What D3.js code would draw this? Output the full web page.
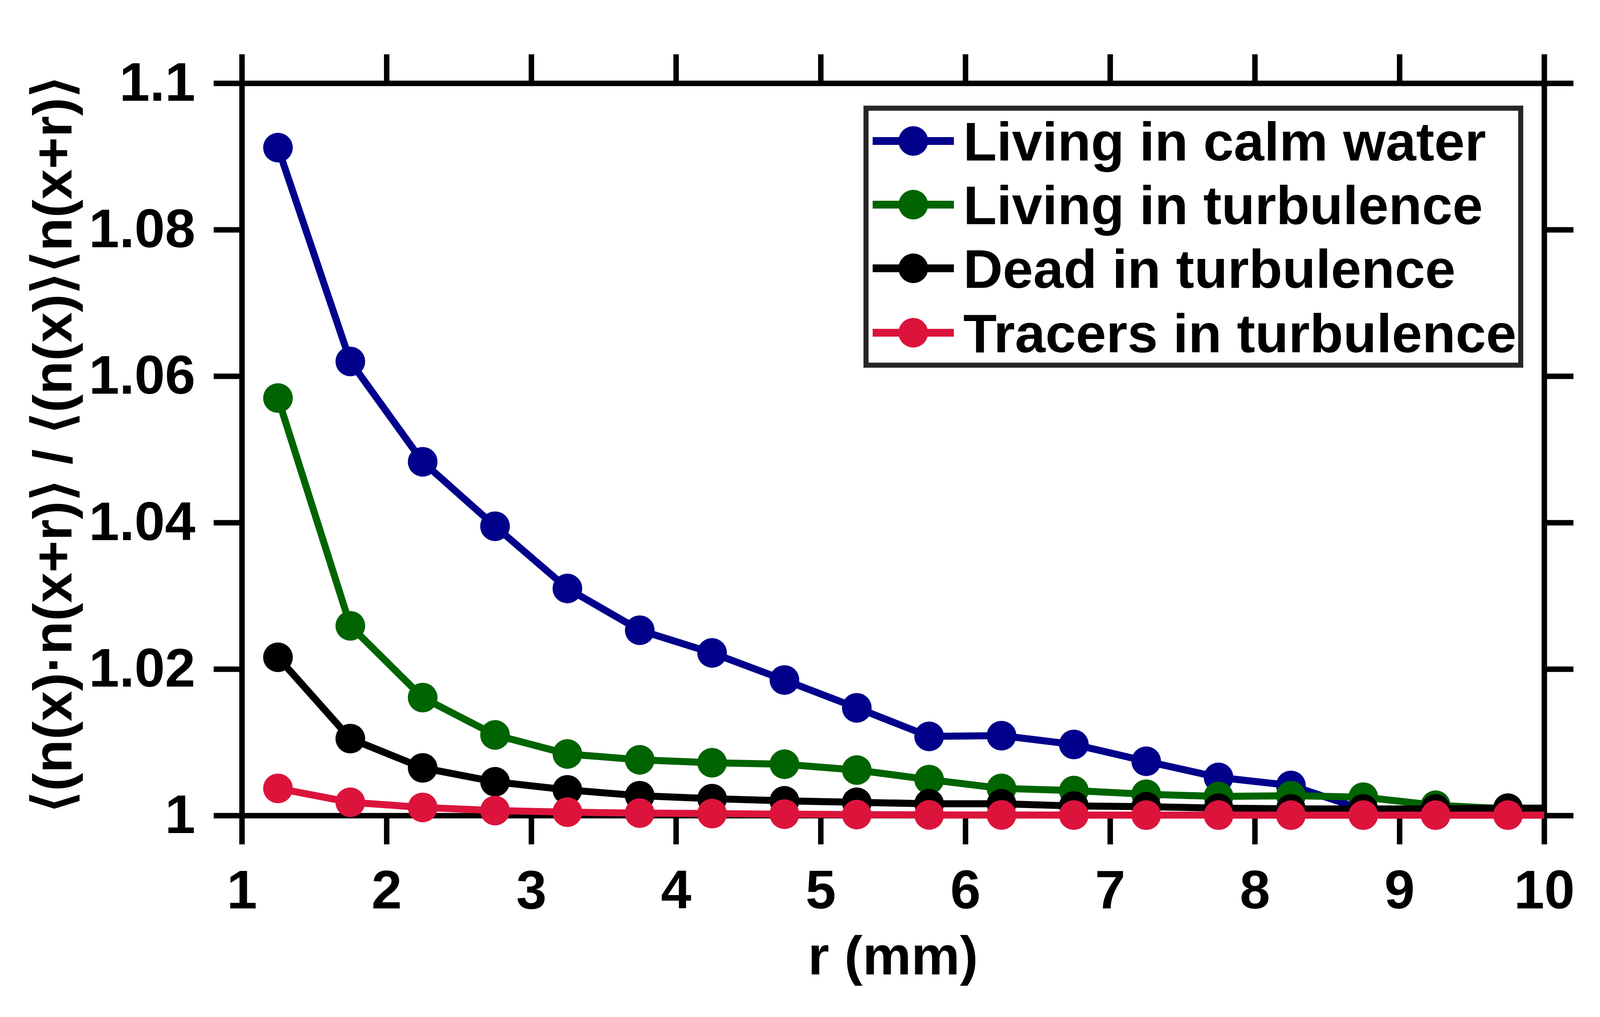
<!DOCTYPE html>
<html>
	<head>
		<title>Pair correlation vs r</title>
		<meta charset='UTF-8' />
		<style>
			body {
				margin: 0;
				background: #ffffff;
			}
			text {
				font-family: 'Liberation Sans', Arial, sans-serif;
				font-weight: bold;
				fill: #000000;
			}
			.axis path, .axis line {
				fill: none;
				stroke: #000000;
				stroke-width: 14px;
			}
		</style>
	</head>

	<body>
	<script src='https://d3js.org/d3.v7.min.js'></script>

	<script>
	'use strict';

	// separation r (mm); the last point lies beyond the frame and is clipped
	const rValues = [1.25, 1.75, 2.25, 2.75, 3.25, 3.75, 4.25, 4.75, 5.25, 5.75,
		6.25, 6.75, 7.25, 7.75, 8.25, 8.75, 9.25, 9.75, 10.25];

	const livingCalm = [1.0912, 1.0620, 1.0483, 1.0395, 1.0310, 1.0253, 1.0222, 1.0185, 1.0147, 1.0108,
		1.0109, 1.0097, 1.0074, 1.0052, 1.0041, 1.0008, 1.0006, 1.0005, 1.0004];
	const livingTurb = [1.0570, 1.0259, 1.0161, 1.0110, 1.0084, 1.0076, 1.0072, 1.0070, 1.0062, 1.0049,
		1.0037, 1.0034, 1.0029, 1.0026, 1.0027, 1.0025, 1.0014, 1.0009, 1.0008];
	const deadTurb = [1.0216, 1.0105, 1.0065, 1.0046, 1.0035, 1.0027, 1.0023, 1.0020, 1.0018, 1.0016,
		1.0016, 1.0013, 1.0012, 1.0010, 1.0009, 1.0009, 1.0009, 1.0010, 1.0010];
	const tracersTurb = [1.0037, 1.0018, 1.0011, 1.00067, 1.00046, 1.00032, 1.00026, 1.00018, 1.00012, 1.00008,
		1.00007, 1.00006, 1.00005, 1.00005, 1.00004, 1.00004, 1.00004, 1.00004, 1.00004];

	const seriesNames = ['Living in calm water', 'Living in turbulence', 'Dead in turbulence', 'Tracers in turbulence'];
	const seriesColors = ['#00008b', '#006400', '#000000', '#dc143c'];
	const seriesValues = [livingCalm, livingTurb, deadTurb, tracersTurb];

	const xTicks = [1, 2, 3, 4, 5, 6, 7, 8, 9, 10];
	const yTicks = [1, 1.02, 1.04, 1.06, 1.08, 1.1];
	const yTickLabels = ['1', '1.02', '1.04', '1.06', '1.08', '1.1'];

	const W = 4167, H = 2604;
	const margin = {top: 213, right: 214, bottom: 516, left: 619};
	const fontSize = 140;

	const x = d3.scaleLinear()
		.domain([1, 10])
		.range([margin.left, W - margin.right]);

	const y = d3.scaleLinear()
		.domain([1, 1.1])
		.range([H - margin.bottom, margin.top]);

	const svg = d3.select('body').append('svg')
		.attr('width', W)
		.attr('height', H);

	svg.append('rect').attr('width', W).attr('height', H).attr('fill', '#ffffff');

	// axes on all four sides, ticks pointing outward
	const bottomAxis = svg.append('g')
		.attr('class', 'axis')
		.attr('transform', 'translate(0,' + y(1) + ')')
		.call(d3.axisBottom(x).tickValues(xTicks).tickSize(74).tickSizeOuter(0).tickPadding(65));

	svg.append('g')
		.attr('class', 'axis')
		.attr('transform', 'translate(0,' + y(1.1) + ')')
		.call(d3.axisTop(x).tickValues(xTicks).tickSize(74).tickSizeOuter(0).tickFormat(''));

	const leftAxis = svg.append('g')
		.attr('class', 'axis')
		.attr('transform', 'translate(' + x(1) + ',0)')
		.call(d3.axisLeft(y).tickValues(yTicks).tickSize(72).tickSizeOuter(0).tickPadding(47)
			.tickFormat(function(d, i) { return yTickLabels[i]; }));

	svg.append('g')
		.attr('class', 'axis')
		.attr('transform', 'translate(' + x(10) + ',0)')
		.call(d3.axisRight(y).tickValues(yTicks).tickSize(75).tickSizeOuter(0).tickFormat(''));

	svg.selectAll('.axis text')
		.attr('font-size', fontSize)
		.style('font-family', "'Liberation Sans', Arial, sans-serif")
		.style('font-weight', 'bold')
		.attr('fill', '#000000');

	// axis titles
	svg.append('text')
		.attr('x', (x(1) + x(10)) / 2)
		.attr('y', 2495)
		.attr('text-anchor', 'middle')
		.attr('font-size', fontSize)
		.text('r (mm)');

	svg.append('text')
		.attr('transform', 'translate(183,1138) rotate(-90)')
		.attr('text-anchor', 'middle')
		.attr('font-size', fontSize)
		.text('\u27E8(n(x)\u00B7n(x+r)\u27E9 / \u27E8(n(x)\u27E9\u27E8n(x+r)\u27E9');

	// data, clipped at the right frame
	svg.append('clipPath')
		.attr('id', 'plotClip')
		.append('rect')
		.attr('x', 0).attr('y', 0)
		.attr('width', x(10)).attr('height', H);

	const plot = svg.append('g').attr('clip-path', 'url(#plotClip)');

	const line = d3.line()
		.x(function(d) { return x(d.r); })
		.y(function(d) { return y(d.v); });

	seriesValues.forEach(function(vals, i) {
		const pts = rValues.map(function(r, j) { return {r: r, v: vals[j]}; });
		const g = plot.append('g');
		g.append('path')
			.datum(pts)
			.attr('d', line)
			.attr('fill', 'none')
			.attr('stroke', seriesColors[i])
			.attr('stroke-width', 18);
		g.selectAll('circle')
			.data(pts)
			.enter().append('circle')
			.attr('cx', function(d) { return x(d.r); })
			.attr('cy', function(d) { return y(d.v); })
			.attr('r', 38)
			.attr('fill', seriesColors[i]);
	});

	// legend
	const legend = svg.append('g');
	legend.append('rect')
		.attr('x', 2217).attr('y', 277)
		.attr('width', 1676).attr('height', 658)
		.attr('fill', '#ffffff')
		.attr('stroke', '#262626')
		.attr('stroke-width', 13);

	const legendBaselines = [411, 574, 737, 902];
	seriesNames.forEach(function(name, i) {
		const cy = legendBaselines[i] - 50;
		legend.append('line')
			.attr('x1', 2234).attr('x2', 2442)
			.attr('y1', cy).attr('y2', cy)
			.attr('stroke', seriesColors[i])
			.attr('stroke-width', 20);
		legend.append('circle')
			.attr('cx', 2338).attr('cy', cy)
			.attr('r', 38)
			.attr('fill', seriesColors[i]);
		legend.append('text')
			.attr('x', 2466)
			.attr('y', legendBaselines[i])
			.attr('font-size', fontSize)
			.text(name);
	});
	</script>
</body>
</html>
